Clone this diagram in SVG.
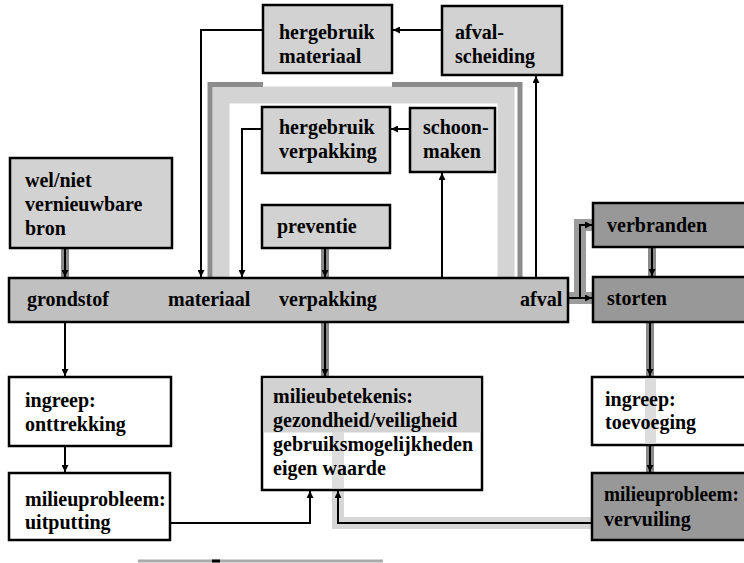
<svg xmlns="http://www.w3.org/2000/svg" width="744" height="563" viewBox="0 0 744 563">
<defs>
<marker id="ah" viewBox="0 0 8 8" refX="8" refY="4" markerWidth="7" markerHeight="7" markerUnits="userSpaceOnUse" orient="auto">
<path d="M0,0 L8,4 L0,8 z" fill="#000"/>
</marker>
</defs>
<style>
.box{stroke:#000;stroke-width:2.5}
.lt{fill:#d2d2d2}
.md{fill:#c0c0c0}
.dk{fill:#989898}
.wh{fill:#fff}
text{font-family:"Liberation Serif","Times New Roman",serif;font-weight:bold;font-size:20px;fill:#000}
.ln{fill:none;stroke:#000;stroke-width:2}
.band{fill:none;stroke:#8a8a8a;stroke-width:8}
.wband{fill:none;stroke:#9c9c9c;stroke-width:12}
.halo{fill:none;stroke:#d6d6d6;stroke-width:12}
.lband{fill:none;stroke:#d4d4d4;stroke-width:17}
.dedge{fill:none;stroke:#8c8c8c;stroke-width:5}
</style>
<rect width="744" height="563" fill="#fff"/>

<g id="connectors">
<path class="lband" d="M221,278 V95 H506 V278"/>
<path class="dedge" d="M210,278 V84.5 H263"/>
<path class="dedge" d="M392,84.5 H520 V278"/>
<path class="ln" d="M263,30 H201 V277" marker-end="url(#ah)"/>
<path class="ln" d="M442,30 H393" marker-end="url(#ah)"/>
<path class="ln" d="M536,278 V76" marker-end="url(#ah)"/>
<path class="ln" d="M262,129 H242 V277" marker-end="url(#ah)"/>
<path class="ln" d="M410,129 H391" marker-end="url(#ah)"/>
<path class="ln" d="M442,278 V173" marker-end="url(#ah)"/>
<path class="band" d="M325,249 V277"/>
<path class="ln" d="M325,249 V277" marker-end="url(#ah)"/>
<path class="band" d="M65,249 V277"/>
<path class="ln" d="M65,249 V277" marker-end="url(#ah)"/>
<path class="wband" d="M568,298 H592 M580,298 V225 H592"/>
<path class="ln" d="M568,298 H592" marker-end="url(#ah)"/>
<path class="ln" d="M580,298 V225 H592" marker-end="url(#ah)"/>
<path class="band" d="M652,248 V276"/>
<path class="ln" d="M652,248 V276" marker-end="url(#ah)"/>
<path class="band" d="M650,323 V376"/>
<path class="ln" d="M650,323 V376" marker-end="url(#ah)"/>
<path class="band" d="M650,446 V472"/>
<path class="ln" d="M650,446 V472" marker-end="url(#ah)"/>
<path class="ln" d="M65,323 V376" marker-end="url(#ah)"/>
<path class="ln" d="M65,447 V472" marker-end="url(#ah)"/>
<path class="band" d="M325,323 V376"/>
<path class="ln" d="M325,323 V376" marker-end="url(#ah)"/>
<path class="ln" d="M170,523 H310 V491" marker-end="url(#ah)"/>
<path class="halo" d="M592,523 H338 V491"/>
<path class="ln" d="M592,523 H338 V491" marker-end="url(#ah)"/>
</g>

<g id="hergebruik-materiaal">
<rect class="box lt" x="263" y="5" width="129" height="68"/>
<text x="279" y="39">hergebruik</text>
<text x="279" y="63">materiaal</text>
</g>
<g id="afval-scheiding">
<rect class="box lt" x="442" y="6" width="120" height="69"/>
<text x="455" y="39">afval-</text>
<text x="455" y="63">scheiding</text>
</g>
<g id="hergebruik-verpakking">
<rect class="box lt" x="262" y="107" width="128" height="66"/>
<text x="279" y="134">hergebruik</text>
<text x="279" y="158">verpakking</text>
</g>
<g id="schoonmaken">
<rect class="box lt" x="410" y="108" width="85" height="64"/>
<text x="423" y="134">schoon-</text>
<text x="423" y="158">maken</text>
</g>
<g id="preventie">
<rect class="box lt" x="262" y="205" width="128" height="43"/>
<text x="277" y="233">preventie</text>
</g>
<g id="bron">
<rect class="box lt" x="10" y="158" width="162" height="90"/>
<text x="25" y="187">wel/niet</text>
<text x="25" y="211">vernieuwbare</text>
<text x="25" y="235">bron</text>
</g>
<g id="keten">
<rect class="box md" x="9" y="278" width="559" height="44"/>
<text x="27" y="306">grondstof</text>
<text x="168" y="306">materiaal</text>
<text x="279" y="306">verpakking</text>
<text x="520" y="306">afval</text>
</g>
<g id="verbranden">
<rect class="box dk" x="593" y="203" width="160" height="44"/>
<text x="607" y="232">verbranden</text>
</g>
<g id="storten">
<rect class="box dk" x="593" y="277" width="160" height="45"/>
<text x="607" y="305">storten</text>
</g>
<g id="ingreep-onttrekking">
<rect class="box wh" x="9" y="377" width="162" height="69"/>
<text x="25" y="407">ingreep:</text>
<text x="25" y="431">onttrekking</text>
</g>
<g id="uitputting">
<rect class="box wh" x="9" y="473" width="161" height="67"/>
<text x="25" y="506">milieuprobleem:</text>
<text x="25" y="529">uitputting</text>
</g>
<g id="milieubetekenis">
<rect class="box wh" x="262" y="377" width="220" height="113"/>
<rect x="263.5" y="378.5" width="217" height="54" fill="#d2d2d2"/>
<rect x="332" y="432" width="12" height="56" fill="#dedede"/>
<text x="273" y="403">milieubetekenis:</text>
<text x="273" y="427">gezondheid/veiligheid</text>
<text x="273" y="451">gebruiksmogelijkheden</text>
<text x="273" y="475">eigen waarde</text>
</g>
<g id="ingreep-toevoeging">
<rect class="box wh" x="592" y="377" width="160" height="68"/>
<rect x="645" y="378.5" width="11" height="65" fill="#dcdcdc"/>
<text x="605" y="406">ingreep:</text>
<text x="605" y="429">toevoeging</text>
</g>
<g id="vervuiling">
<rect class="box dk" x="592" y="473" width="160" height="67"/>
<text x="604" y="501" textLength="135" lengthAdjust="spacingAndGlyphs">milieuprobleem:</text>
<text x="604" y="526">vervuiling</text>
</g>
<g id="rule">
<line x1="138" y1="561" x2="383" y2="561" stroke="#aaa" stroke-width="3"/>
<line x1="212" y1="561" x2="220" y2="561" stroke="#000" stroke-width="3"/>
</g>
</svg>
